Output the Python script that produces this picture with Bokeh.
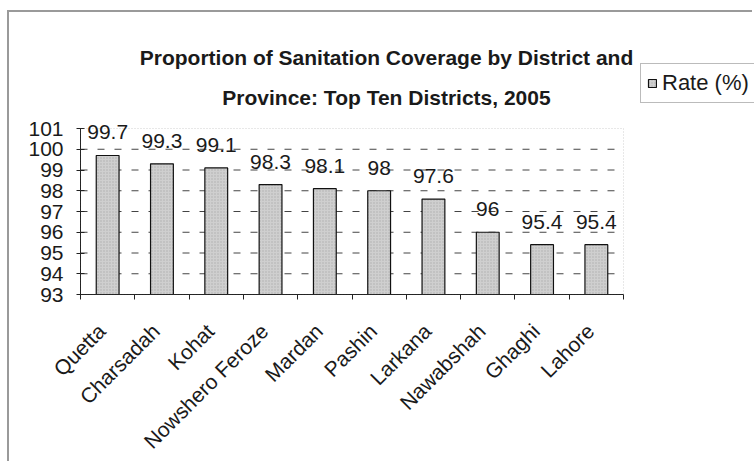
from math import pi
from bokeh.plotting import figure
from bokeh.models import (Range1d, LinearAxis, LinearScale, FixedTicker, ColumnDataSource,
                          LabelSet, Label, Legend, LegendItem, BoxAnnotation)
from bokeh.core.properties import value
from bokeh.embed import file_html
from bokeh.resources import INLINE

# ---- data ----
districts = ["Quetta", "Charsadah", "Kohat", "Nowshero Feroze", "Mardan",
             "Pashin", "Larkana", "Nawabshah", "Ghaghi", "Lahore"]
rates = [99.7, 99.3, 99.1, 98.3, 98.1, 98.0, 97.6, 96.0, 95.4, 95.4]
rate_labels = ["99.7", "99.3", "99.1", "98.3", "98.1", "98", "97.6", "96", "95.4", "95.4"]
y_ticks = [93, 94, 95, 96, 97, 98, 99, 100, 101]
title_lines = ["Proportion of Sanitation Coverage by District and",
               "Province: Top Ten Districts, 2005"]
series_name = "Rate (%)"

# ---- layout (pixels) ----
CANVAS_W, CANVAS_H = 745, 451
LEFT, BOTTOM_BORDER = 71, 169          # frame starts at x=71, ends 169px above bottom
AREA_W, AREA_H = 543, 166              # pixel size of the plotted (axis) area
FONT = "Liberation Sans"
TXT = "#1a1a1a"

n = len(districts)
slot = list(range(n))                  # category slot index
x_lo, x_hi = -0.5, n - 0.5
y_lo, y_hi = y_ticks[0], y_ticks[-1]
frame_w = CANVAS_W - LEFT
frame_h = CANVAS_H - BOTTOM_BORDER
x_end = x_lo + (x_hi - x_lo) * frame_w / AREA_W
y_end = y_lo + (y_hi - y_lo) * frame_h / AREA_H

src = ColumnDataSource(dict(slot=slot, district=districts, rate=rates, label=rate_labels))
grid_vals = y_ticks[1:-1]
grid_src = ColumnDataSource(dict(y=grid_vals, x0=[x_lo] * len(grid_vals),
                                 x1=[x_hi] * len(grid_vals)))

p = figure(width=CANVAS_W, height=CANVAS_H,
           x_range=Range1d(x_lo, x_end), y_range=Range1d(y_lo, y_end),
           output_backend="svg", toolbar_location=None, x_axis_location=None,
           min_border_left=LEFT, min_border_right=0, min_border_top=0,
           min_border_bottom=BOTTOM_BORDER)
p.styles = {"margin-left": "7px", "margin-top": "10px",
            "border-left": "2px solid #9a9a9a", "border-top": "2px solid #9a9a9a"}
p.outline_line_color = None
p.xgrid.visible = False
p.ygrid.visible = False

# dashed gridlines only across the plotted area
p.segment(x0="x0", x1="x1", y0="y", y1="y", source=grid_src, line_color="#444444",
          line_width=1, line_dash="7 10", level="underlay")

# dotted plot-area border
p.add_layout(BoxAnnotation(left=x_lo, right=x_hi, bottom=y_lo, top=y_hi,
                           fill_alpha=0, line_color="#666666", line_dash="1 2",
                           line_width=1))

# y axis
ya = p.yaxis[0]
ya.bounds = (y_lo, y_hi)
ya.ticker = FixedTicker(ticks=y_ticks)
ya.major_tick_in = 4
ya.major_tick_out = 4
ya.minor_tick_in = 0
ya.minor_tick_out = 0
ya.major_label_standoff = 13
ya.major_label_text_font = FONT
ya.major_label_text_font_size = "21px"
ya.major_label_text_color = TXT
ya.axis_line_color = "#222222"
ya.major_tick_line_color = "#222222"

# x axis: boundary ticks + category labels (labels nudged slightly left, Excel-like)
bound_axis = LinearAxis(ticker=FixedTicker(ticks=[s - 0.5 for s in slot] + [n - 0.5]),
                        bounds=(x_lo, x_hi),
                        major_label_text_font_size="0px", major_label_text_alpha=0,
                        major_label_standoff=0, major_tick_in=0, major_tick_out=5,
                        minor_tick_in=0, minor_tick_out=0,
                        axis_line_color="#222222", major_tick_line_color="#222222")
p.add_layout(bound_axis, "below")
shift = 0.11
p.extra_x_ranges = {"lab": Range1d(x_lo + shift, x_end + shift)}
p.extra_x_scales = {"lab": LinearScale()}
cat_axis = LinearAxis(x_range_name="lab", ticker=FixedTicker(ticks=slot),
                      major_label_overrides={s: d for s, d in zip(slot, districts)},
                      axis_line_color=None, major_tick_line_color=None,
                      minor_tick_line_color=None,
                      major_tick_in=0, major_tick_out=0, minor_tick_in=0, minor_tick_out=0,
                      major_label_orientation=pi / 4, major_label_standoff=28,
                      major_label_text_font=FONT, major_label_text_font_size="21px",
                      major_label_text_color=TXT)
p.add_layout(cat_axis, "below")

bars = p.vbar(x="slot", top="rate", bottom=y_lo, width=0.42, source=src,
              fill_color="#cfcfcf", line_color="#111111", line_width=1.2,
              hatch_pattern="dot", hatch_scale=3, hatch_color="#8a8a8a",
              hatch_weight=0.8, hatch_alpha=0.5)

labels = LabelSet(x="slot", y="rate", text="label", source=src, y_offset=16,
                  text_align="center", text_baseline="alphabetic",
                  text_font=value(FONT), text_font_size="21px", text_color=TXT)
p.add_layout(labels)

legend = Legend(items=[LegendItem(label=series_name, renderers=[bars])],
                location=(560, 191), glyph_width=10, glyph_height=10,
                padding=6, spacing=0, margin=0, label_standoff=5, label_width=100,
                label_text_font=FONT, label_text_font_size="22px", label_text_color=TXT,
                border_line_color="#777777", border_line_width=1,
                background_fill_color="white", background_fill_alpha=1)
p.add_layout(legend)

for txt, y in zip(title_lines, [237, 197]):
    p.add_layout(Label(x=306, y=y, x_units="screen", y_units="screen", text=txt,
                       text_align="center", text_baseline="alphabetic",
                       text_font=FONT, text_font_style="bold",
                       text_font_size="21px", text_color=TXT))

open("out.html", "w").write(file_html(p, INLINE))
